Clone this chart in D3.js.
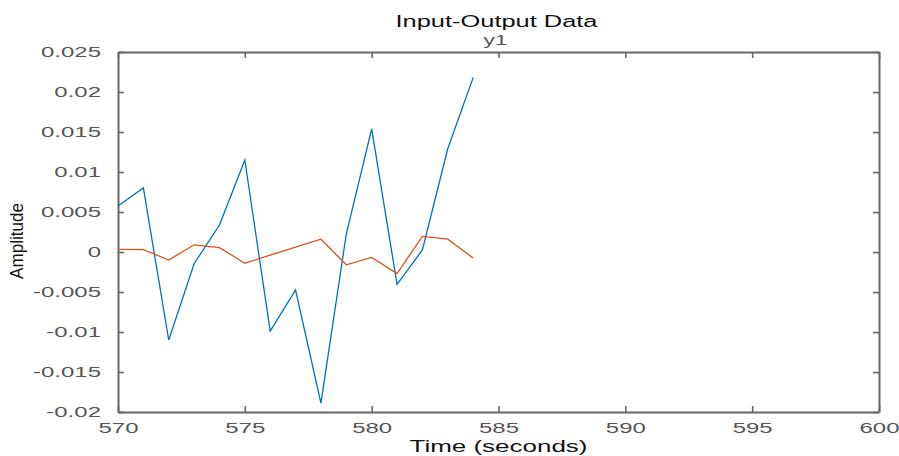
<!DOCTYPE html>
<html>
<head>
<meta charset="utf-8">
<script src="https://cdn.jsdelivr.net/npm/d3@7"></script>
<style>
  body { margin: 0; background: #fff; }
  text { font-family: "Liberation Sans", Arial, sans-serif; }
</style>
</head>
<body>
<div></div>
<script>
var time = [570, 571, 572, 573, 574, 575, 576, 577, 578, 579, 580, 581, 582, 583, 584];
var y1 = [0.00575, 0.0080, -0.0110, -0.00146, 0.00337, 0.0115, -0.0099, -0.00475, -0.0189,
  0.00225, 0.0154, -0.00404, 0.00025, 0.0129, 0.0218];
var u1 = [0.00034, 0.0003, -0.0010, 0.0009, 0.00054, -0.0014, -0.0004, 0.0006, 0.0016,
  -0.0016, -0.00067, -0.0027, 0.00196, 0.0016, -0.00075];
var xTicks = [570, 575, 580, 585, 590, 595, 600];
var yTicks = [-0.02, -0.015, -0.01, -0.005, 0, 0.005, 0.01, 0.015, 0.02, 0.025];
var yTickLabels = ["-0.02", "-0.015", "-0.01", "-0.005", "0", "0.005", "0.01", "0.015", "0.02", "0.025"];

var width = 899;
var height = 456;
var margin = { top: 52, bottom: 44, left: 118, right: 20 };
var plotW = width - margin.left - margin.right;
var plotH = height - margin.top - margin.bottom;
var axisColor = "#666666";
var labelColor = "#555555";
var stretch = 1.6; // text in the picture is wider than normal

var svg = d3
  .select("body")
  .select("div")
  .append("svg")
  .attr("width", width)
  .attr("height", height);

var chartGroup = svg
  .append("g")
  .attr("transform", "translate(" + margin.left + "," + margin.top + ")");

var xScale = d3.scaleLinear().domain([570, 600]).range([0, plotW]);
var yScale = d3.scaleLinear().domain([-0.02, 0.025]).range([plotH, 0]);

// widen a text node to match the stretched look
function widen(sel, k) {
  sel.each(function() {
    var w = this.getComputedTextLength();
    d3.select(this)
      .attr("textLength", w * k)
      .attr("lengthAdjust", "spacingAndGlyphs");
  });
}

//==========axes (ticks inside on all four sides)==========
var xAxis = d3.axisBottom(xScale).tickValues(xTicks).tickSizeInner(-6).tickSizeOuter(0).tickPadding(10);
var gx = chartGroup
  .append("g")
  .attr("class", "x axis")
  .attr("transform", "translate(0," + plotH + ")")
  .call(xAxis);

var xTop = d3.axisTop(xScale).tickValues(xTicks).tickSizeInner(-6).tickSizeOuter(0).tickFormat("");
chartGroup.append("g").call(xTop);

var yAxis = d3
  .axisLeft(yScale)
  .tickValues(yTicks)
  .tickSizeInner(-6)
  .tickSizeOuter(0)
  .tickPadding(17)
  .tickFormat(function(d, i) { return yTickLabels[i]; });
var gy = chartGroup.append("g").attr("class", "y axis").call(yAxis);

var yRight = d3.axisRight(yScale).tickValues(yTicks).tickSizeInner(-6).tickSizeOuter(0).tickFormat("");
chartGroup.append("g").attr("transform", "translate(" + plotW + ",0)").call(yRight);

chartGroup.selectAll(".domain, .tick line").attr("stroke", axisColor).attr("stroke-width", 1.6);
chartGroup.selectAll(".domain").attr("stroke-width", 2);
chartGroup.selectAll(".tick text")
  .attr("fill", labelColor)
  .style("font-size", "15px");

widen(gx.selectAll(".tick text"), stretch);
widen(gy.selectAll(".tick text"), stretch);

//==========data lines==========
var series = [
  { id: "y1", value: y1, color: "#0072BD" },
  { id: "u1", value: u1, color: "#D95319" }
];

var line = d3
  .line()
  .x(function(d, i) { return xScale(time[i]); })
  .y(function(d) { return yScale(d); });

chartGroup
  .append("g")
  .selectAll("path")
  .data(series)
  .enter()
  .append("path")
  .attr("d", function(d) { return line(d.value); })
  .attr("fill", "none")
  .attr("stroke", function(d) { return d.color; })
  .attr("stroke-width", 1.3);

//==========titles and labels==========
var cx = margin.left + plotW / 2;

svg.append("text")
  .attr("x", cx - 2)
  .attr("y", 27)
  .attr("text-anchor", "middle")
  .style("font-size", "16px")
  .attr("fill", "#111")
  .text("Input-Output Data")
  .attr("textLength", 202)
  .attr("lengthAdjust", "spacingAndGlyphs");

svg.append("text")
  .attr("x", cx - 3)
  .attr("y", 45)
  .attr("text-anchor", "middle")
  .style("font-size", "14px")
  .attr("fill", labelColor)
  .text("y1")
  .attr("textLength", 24)
  .attr("lengthAdjust", "spacingAndGlyphs");

svg.append("text")
  .attr("x", cx)
  .attr("y", 452)
  .attr("text-anchor", "middle")
  .style("font-size", "16px")
  .attr("fill", "#111")
  .text("Time (seconds)")
  .attr("textLength", 178)
  .attr("lengthAdjust", "spacingAndGlyphs");

svg.append("text")
  .attr("transform", "translate(23,241) rotate(-90)")
  .attr("text-anchor", "middle")
  .style("font-size", "19px")
  .attr("fill", "#111")
  .text("Amplitude")
  .attr("textLength", 76)
  .attr("lengthAdjust", "spacingAndGlyphs");
</script>
</body>
</html>
